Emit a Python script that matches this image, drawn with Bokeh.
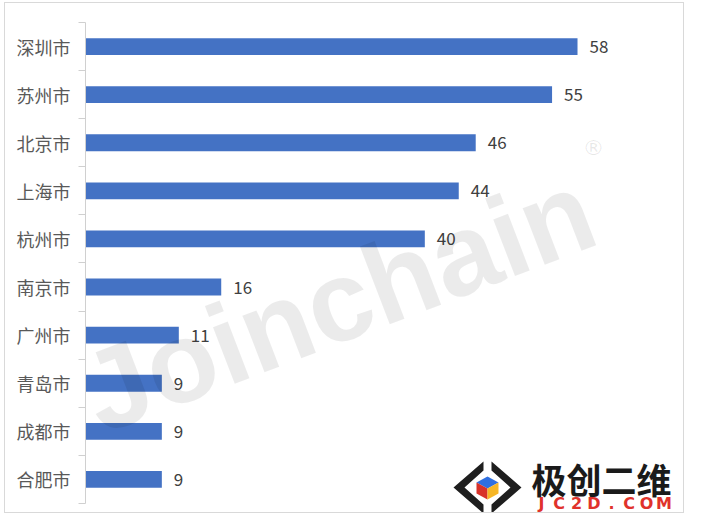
from bokeh.plotting import figure
from bokeh.models import Range1d, FixedTicker, Label, ColumnDataSource
from bokeh.core.properties import value
from bokeh.embed import file_html
from bokeh.resources import INLINE

# ---- data ----
cities = ["深圳市", "苏州市", "北京市", "上海市", "杭州市", "南京市", "广州市", "青岛市", "成都市", "合肥市"]
counts = [58, 55, 46, 44, 40, 16, 11, 9, 9, 9]
positions = list(range(len(cities) - 1, -1, -1))
value_labels = [str(c) for c in counts]

BAR = "#4472C4"
FONT = "Noto Sans CJK SC"

W, H = 680, 511
X_END = 70.73
Y_START, Y_END = -0.729, 9.5

p = figure(width=W, height=H, output_backend="svg", toolbar_location=None,
           x_range=Range1d(0, X_END), y_range=Range1d(Y_START, Y_END),
           x_axis_location=None,
           min_border_left=80, min_border_top=19, min_border_bottom=0, min_border_right=0)
p.styles = {"border": "1px solid #d9d9d9", "margin-left": "4px", "margin-top": "2px"}
p.xgrid.visible = False
p.ygrid.visible = False
p.outline_line_color = None
p.background_fill_color = "white"
p.border_fill_color = "white"

ax = p.yaxis[0]
ax.ticker = FixedTicker(ticks=positions, minor_ticks=[i - 0.5 for i in range(len(cities) + 1)])
ax.major_label_overrides = {pos: c for pos, c in zip(positions, cities)}
ax.bounds = (-0.5, len(cities) - 0.5)
ax.major_tick_out = 0
ax.major_tick_in = 0
ax.major_tick_line_color = None
ax.minor_tick_out = 7
ax.minor_tick_in = 0
ax.minor_tick_line_color = "#d0d0d0"
ax.axis_line_color = "#d0d0d0"
ax.major_label_standoff = 8
ax.major_label_text_font = FONT
ax.major_label_text_font_size = "18px"
ax.major_label_text_color = "#595959"

src = ColumnDataSource(dict(y=positions, v=counts, label=value_labels))
p.hbar(y="y", left=0, right="v", height=0.35, source=src,
       fill_color=BAR, line_color=None)
p.text(x="v", y="y", text="label", source=src, x_offset=12,
       text_baseline="middle", text_align="left",
       text_font=value(FONT), text_font_size="17px", text_color="#404040")

# ---- decoration helpers (image pixel -> data) ----
PX0, SX = 85.0, 8.483
PY0, SY = 22.0, 48.1
def px(x):
    return (x - PX0) / SX
def py(y):
    return Y_END - (y - PY0) / SY

# watermark
p.add_layout(Label(x=px(87), y=py(397), text="Joinchain", angle=21, angle_units="deg",
                   text_font="Liberation Sans", text_font_style="bold", text_font_size="115px",
                   text_color="black", text_alpha=0.08, text_baseline="alphabetic"))
p.add_layout(Label(x=px(593), y=py(147), text="®", text_font="DejaVu Sans",
                   text_font_size="22px", text_color="black", text_alpha=0.09,
                   text_align="center", text_baseline="middle"))

# logo
cx, cy = 487, 487
chev_l = [(cx - 4, cy - 26), (cx - 34, cy), (cx - 4, cy + 26), (cx - 4, cy + 17), (cx - 23, cy), (cx - 4, cy - 17)]
chev_r = [(cx + 4, cy - 26), (cx + 34, cy), (cx + 4, cy + 26), (cx + 4, cy + 17), (cx + 23, cy), (cx + 4, cy - 17)]
top = [(cx, cy - 11), (cx + 11, cy - 5), (cx, cy + 1), (cx - 11, cy - 5)]
left = [(cx - 11, cy - 5), (cx, cy + 1), (cx, cy + 12), (cx - 11, cy + 6)]
right = [(cx, cy + 1), (cx + 11, cy - 5), (cx + 11, cy + 6), (cx, cy + 12)]
shapes = [chev_l, chev_r, top, left, right]
colors = ["#1e1e1e", "#1e1e1e", "#2f6fe0", "#d8322a", "#f6b626"]
p.patches(xs=[[px(a) for a, b in s] for s in shapes], ys=[[py(b) for a, b in s] for s in shapes],
          fill_color=colors, line_color=None)

p.text(x=[px(531)], y=[py(478)], text=["极创二维"], text_baseline="middle", text_align="left",
       text_font=value(FONT), text_font_style="bold", text_font_size="35px", text_color="#1a1a1a")
brand = list("JC2D.COM")
p.text(x=[px(541 + 17.5 * i) for i in range(len(brand))], y=[py(503)] * len(brand), text=brand,
       text_baseline="middle", text_align="center",
       text_font=value("DejaVu Sans"), text_font_style="bold", text_font_size="16px", text_color="#e0322b")

open("out.html", "w").write(file_html(p, INLINE))
